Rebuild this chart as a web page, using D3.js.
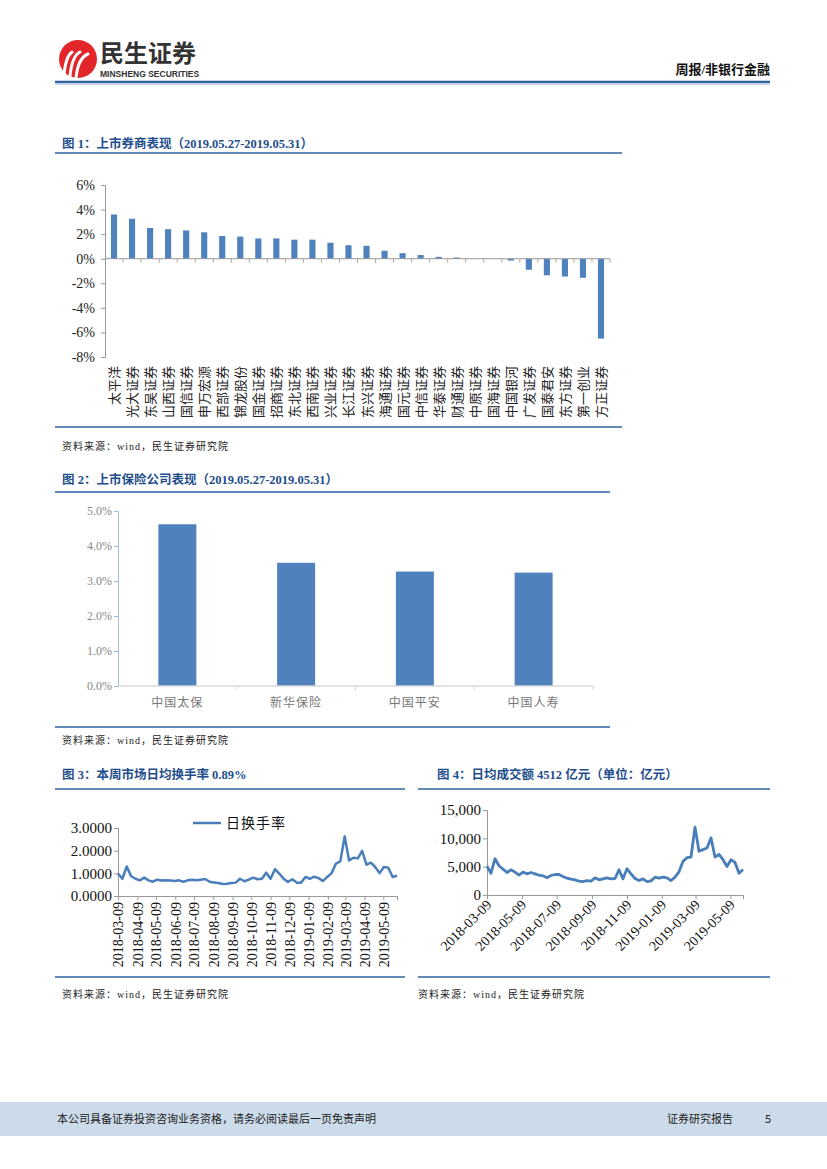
<!DOCTYPE html>
<html>
<head>
<meta charset="utf-8">
<script src="https://cdn.jsdelivr.net/npm/d3@7"></script>
<style>
  body { margin: 0; background: #fff; }
  svg { display: block; }
</style>
</head>
<body>
<svg id="page" width="827" height="1169"></svg>
<script>
// fig 1 - brokers weekly change (%)
const brokers = ["太平洋", "光大证券", "东吴证券", "山西证券", "国信证券", "申万宏源", "西部证券", "锦龙股份", "国金证券", "招商证券",
  "东北证券", "西南证券", "兴业证券", "长江证券", "东兴证券", "海通证券", "国元证券", "中信证券", "华泰证券", "财通证券",
  "中原证券", "国海证券", "中国银河", "广发证券", "国泰君安", "东方证券", "第一创业", "方正证券"];
const brokerChange = [3.6, 3.25, 2.5, 2.4, 2.3, 2.15, 1.85, 1.8, 1.65, 1.65,
  1.55, 1.55, 1.3, 1.1, 1.05, 0.65, 0.45, 0.3, 0.15, 0.1,
  0.0, 0.0, -0.15, -0.9, -1.35, -1.45, -1.55, -6.5];
const brokerTicks = [6, 4, 2, 0, -2, -4, -6, -8];

// fig 2 - insurers
const insurers = ["中国太保", "新华保险", "中国平安", "中国人寿"];
const insurerChange = [4.62, 3.52, 3.27, 3.24];
const insurerTicks = [0, 1, 2, 3, 4, 5];

// fig 3/4 - weekly market data
const weeks = ["2018-03-09", "2018-03-16", "2018-03-23", "2018-03-30", "2018-04-06", "2018-04-13", "2018-04-20", "2018-04-27",
  "2018-05-04", "2018-05-11", "2018-05-18", "2018-05-25", "2018-06-01", "2018-06-08", "2018-06-15", "2018-06-22", "2018-06-29",
  "2018-07-06", "2018-07-13", "2018-07-20", "2018-07-27", "2018-08-03", "2018-08-10", "2018-08-17", "2018-08-24", "2018-08-31",
  "2018-09-07", "2018-09-14", "2018-09-21", "2018-09-28", "2018-10-05", "2018-10-12", "2018-10-19", "2018-10-26",
  "2018-11-02", "2018-11-09", "2018-11-16", "2018-11-23", "2018-11-30", "2018-12-07", "2018-12-14", "2018-12-21", "2018-12-28",
  "2019-01-04", "2019-01-11", "2019-01-18", "2019-01-25", "2019-02-01", "2019-02-08", "2019-02-15", "2019-02-22",
  "2019-03-01", "2019-03-08", "2019-03-15", "2019-03-22", "2019-03-29", "2019-04-05", "2019-04-12", "2019-04-19", "2019-04-26",
  "2019-05-03", "2019-05-10", "2019-05-17", "2019-05-24", "2019-05-31"];
const turnover = [0.99, 0.76, 1.30, 0.87, 0.76, 0.69, 0.81, 0.69, 0.63, 0.72, 0.68, 0.69, 0.68, 0.66, 0.69, 0.63, 0.69,
  0.72, 0.69, 0.72, 0.75, 0.63, 0.60, 0.57, 0.53, 0.54, 0.57, 0.59, 0.76, 0.65, 0.72, 0.81, 0.74, 0.76,
  1.03, 0.76, 1.18, 0.99, 0.76, 0.62, 0.74, 0.59, 0.59, 0.84, 0.76, 0.85, 0.79, 0.66, 0.84, 1.01, 1.43,
  1.53, 2.63, 1.57, 1.69, 1.66, 1.99, 1.38, 1.47, 1.28, 1.01, 1.28, 1.25, 0.84, 0.89];
const amount = [5060, 3850, 6400, 5160, 4570, 3970, 4450, 4030, 3500, 4030, 3740, 3970, 3740, 3500, 3380, 3030, 3440,
  3620, 3620, 3260, 2970, 2790, 2670, 2430, 2370, 2550, 2430, 3030, 2670, 2850, 3030, 2850, 2910, 4450,
  2850, 4630, 3740, 2910, 2550, 2850, 2370, 2490, 3150, 2970, 3150, 3030, 2550, 3150, 4090, 5930, 6580,
  6700, 11980, 7710, 8000, 8300, 10080, 6700, 7180, 6230, 5040, 6230, 5750, 3850, 4512];
const turnoverTicks = [0, 1, 2, 3];
const amountTicks = [0, 5000, 10000, 15000];
const monthTicks = ["2018-03-09", "2018-04-09", "2018-05-09", "2018-06-09", "2018-07-09", "2018-08-09", "2018-09-09",
  "2018-10-09", "2018-11-09", "2018-12-09", "2019-01-09", "2019-02-09", "2019-03-09", "2019-04-09", "2019-05-09"];
const biMonthTicks = ["2018-03-09", "2018-05-09", "2018-07-09", "2018-09-09", "2018-11-09", "2019-01-09", "2019-03-09", "2019-05-09"];

const blue = "#4F81BD";
const titleBlue = "#1F4E8C";
const ruleBlue = "#2F62A0";
const serif = "'Liberation Serif', 'Noto Sans CJK SC', serif";
const sans = "'Noto Sans CJK SC', sans-serif";
const parse = d3.timeParse("%Y-%m-%d");

const svg = d3.select("#page");

function rule(x1, x2, y, w, c)
{
  svg.append("line").attr("x1", x1).attr("x2", x2).attr("y1", y).attr("y2", y)
    .attr("stroke", c || ruleBlue).attr("stroke-width", w || 1.5);
}

function title(x, y, txt)
{
  svg.append("text").attr("x", x).attr("y", y).text(txt)
    .attr("font-family", serif).attr("font-weight", "bold").attr("font-size", 12.5).attr("fill", titleBlue);
}

function source(x, y)
{
  svg.append("text").attr("x", x).attr("y", y).text("资料来源：wind，民生证券研究院")
    .attr("font-family", serif).attr("font-size", 10).attr("letter-spacing", 1).attr("fill", "#222");
}

function drawHeader()
{
  const logo = svg.append("g");
  logo.append("circle").attr("cx", 78).attr("cy", 59).attr("r", 19).attr("fill", "#E3262A");
  const stripes = [[64, 74, 72, 52], [70, 76, 80, 52], [76, 78, 88, 54]];
  stripes.forEach(s =>
  {
    logo.append("path")
      .attr("d", `M${s[0]},${s[1]} Q${s[0] + 2},${s[3] + 4} ${s[2]},${s[3]}`)
      .attr("stroke", "#fff").attr("stroke-width", 3).attr("fill", "none").attr("stroke-linecap", "round");
  });
  svg.append("text").attr("x", 100).attr("y", 62).text("民生证券")
    .attr("font-family", sans).attr("font-weight", "bold").attr("font-size", 24).attr("fill", "#333");
  svg.append("text").attr("x", 100).attr("y", 76.5).text("MINSHENG SECURITIES")
    .attr("font-family", "'Liberation Sans Narrow', 'Liberation Sans', sans-serif").attr("font-weight", "bold")
    .attr("font-size", 8.5).attr("fill", "#333");
  svg.append("text").attr("x", 770).attr("y", 74).attr("text-anchor", "end").text("周报/非银行金融")
    .attr("font-family", serif).attr("font-weight", "bold").attr("font-size", 13).attr("fill", "#111");
  rule(55, 770, 82, 2.5, "#2F62A0");
  rule(55, 770, 84.5, 1, "#BFD2E8");
}

function drawBrokers()
{
  title(62, 148, "图 1：上市券商表现（2019.05.27-2019.05.31）");
  rule(55, 622, 153);

  const y = d3.scaleLinear().domain([-8, 6]).range([357, 185]);
  const x = d3.scaleBand().domain(brokers).range([105, 610]).paddingInner(0.66).paddingOuter(0.33);
  const g = svg.append("g");

  const yAxis = g.append("g").attr("transform", "translate(105,0)")
    .call(d3.axisLeft(y).tickValues(brokerTicks).tickSize(4).tickFormat(d => d + "%"));
  yAxis.select(".domain").attr("stroke", "#999");
  yAxis.selectAll(".tick line").attr("stroke", "#999");
  yAxis.selectAll("text").attr("font-family", serif).attr("font-size", 14).attr("fill", "#222").attr("x", -10);

  g.selectAll(".bar").data(brokers).enter().append("rect")
    .attr("x", d => x(d))
    .attr("width", x.bandwidth())
    .attr("y", (d, i) => y(Math.max(0, brokerChange[i])))
    .attr("height", (d, i) => Math.abs(y(brokerChange[i]) - y(0)))
    .attr("fill", blue);

  // x axis with ticks between categories
  g.append("line").attr("x1", 105).attr("x2", 610).attr("y1", y(0)).attr("y2", y(0)).attr("stroke", "#999");
  const step = x.step();
  brokers.forEach((d, i) =>
  {
    const tx = 105 + step * (i + 1);
    g.append("line").attr("x1", tx).attr("x2", tx).attr("y1", y(0)).attr("y2", y(0) + 4).attr("stroke", "#B0A890");
  });

  // labels rotated, reading upward, anchored at the top
  brokers.forEach(d =>
  {
    const cx = x(d) + x.bandwidth() / 2;
    g.append("text").attr("transform", `translate(${cx + 5},366) rotate(-90)`)
      .attr("text-anchor", "end").text(d)
      .attr("font-family", sans).attr("font-size", 13).attr("fill", "#222");
  });

  rule(55, 622, 427);
  source(62, 450);
}

function drawInsurers()
{
  title(62, 484, "图 2：上市保险公司表现（2019.05.27-2019.05.31）");
  rule(55, 610, 492);

  const y = d3.scaleLinear().domain([0, 5]).range([686, 511]);
  const x = d3.scaleBand().domain(insurers).range([118, 593]).paddingInner(0.68).paddingOuter(0.34);
  const g = svg.append("g");

  const yAxis = g.append("g").attr("transform", "translate(118,0)")
    .call(d3.axisLeft(y).tickValues(insurerTicks).tickSize(4).tickFormat(d => d3.format(".1f")(d) + "%"));
  yAxis.select(".domain").attr("stroke", "#9DBBDD");
  yAxis.selectAll(".tick line").attr("stroke", "#9DBBDD");
  yAxis.selectAll("text").attr("font-family", serif).attr("font-size", 12).attr("fill", "#888").attr("x", -6);

  g.selectAll(".bar").data(insurers).enter().append("rect")
    .attr("x", d => x(d))
    .attr("width", x.bandwidth())
    .attr("y", (d, i) => y(insurerChange[i]))
    .attr("height", (d, i) => y(0) - y(insurerChange[i]))
    .attr("fill", blue);

  g.append("line").attr("x1", 118).attr("x2", 593).attr("y1", y(0)).attr("y2", y(0)).attr("stroke", "#D9D9D9").attr("stroke-width", 1.5);
  insurers.forEach((d, i) =>
  {
    const tx = 118 + x.step() * (i + 1);
    g.append("line").attr("x1", tx).attr("x2", tx).attr("y1", y(0)).attr("y2", y(0) + 4).attr("stroke", "#D9D9D9");
    g.append("text").attr("x", x(d) + x.bandwidth() / 2).attr("y", 707).attr("text-anchor", "middle").text(d)
      .attr("font-family", sans).attr("font-size", 12).attr("letter-spacing", 1).attr("fill", "#777");
  });

  rule(55, 610, 727);
  source(62, 744);
}

function drawTurnover()
{
  title(62, 779, "图 3：本周市场日均换手率 0.89%");
  rule(55, 405, 789);

  const dates = weeks.map(parse);
  const x = d3.scaleTime().domain([dates[0], dates[dates.length - 1]]).range([118, 397]);
  const y = d3.scaleLinear().domain([0, 3]).range([896, 828]);
  const g = svg.append("g");

  const yAxis = g.append("g").attr("transform", "translate(118,0)")
    .call(d3.axisLeft(y).tickValues(turnoverTicks).tickSize(4).tickFormat(d3.format(".4f")));
  yAxis.select(".domain").attr("stroke", "#999");
  yAxis.selectAll(".tick line").attr("stroke", "#999");
  yAxis.selectAll("text").attr("font-family", serif).attr("font-size", 15).attr("fill", "#111").attr("x", -6);

  const xAxis = g.append("g").attr("transform", "translate(0,896)")
    .call(d3.axisBottom(x).tickValues(monthTicks.map(parse)).tickSize(4).tickFormat(d3.timeFormat("%Y-%m-%d")));
  xAxis.select(".domain").attr("stroke", "#999");
  xAxis.selectAll(".tick line").attr("stroke", "#999");
  xAxis.selectAll("text").attr("font-family", serif).attr("font-size", 14).attr("fill", "#111")
    .attr("text-anchor", "end").attr("transform", "rotate(-90)").attr("x", -6).attr("y", 0).attr("dy", "0.35em");

  const line = d3.line().x((d, i) => x(dates[i])).y(d => y(d));
  g.append("path").datum(turnover).attr("d", line)
    .attr("fill", "none").attr("stroke", "#4A7EBB").attr("stroke-width", 2.5).attr("stroke-linejoin", "round");

  g.append("line").attr("x1", 193).attr("x2", 221).attr("y1", 823).attr("y2", 823)
    .attr("stroke", "#4A7EBB").attr("stroke-width", 2.5);
  g.append("text").attr("x", 226).attr("y", 828).text("日换手率")
    .attr("font-family", sans).attr("font-size", 14).attr("letter-spacing", 1).attr("fill", "#111");

  rule(55, 405, 977);
  source(62, 998);
}

function drawAmount()
{
  title(437, 779, "图 4：日均成交额 4512 亿元（单位：亿元）");
  rule(418, 770, 789);

  const dates = weeks.map(parse);
  const x = d3.scaleTime().domain([dates[0], dates[dates.length - 1]]).range([487, 743]);
  const y = d3.scaleLinear().domain([0, 15000]).range([895, 810]);
  const g = svg.append("g");

  const yAxis = g.append("g").attr("transform", "translate(487,0)")
    .call(d3.axisLeft(y).tickValues(amountTicks).tickSize(4).tickFormat(d3.format(",")));
  yAxis.select(".domain").attr("stroke", "#999");
  yAxis.selectAll(".tick line").attr("stroke", "#999");
  yAxis.selectAll("text").attr("font-family", serif).attr("font-size", 15).attr("fill", "#111").attr("x", -6);

  const xAxis = g.append("g").attr("transform", "translate(0,895)")
    .call(d3.axisBottom(x).tickValues(biMonthTicks.map(parse)).tickSize(4).tickFormat(d3.timeFormat("%Y-%m-%d")));
  xAxis.select(".domain").attr("stroke", "#999");
  xAxis.selectAll(".tick line").attr("stroke", "#999");
  xAxis.selectAll("text").attr("font-family", serif).attr("font-size", 14).attr("fill", "#111")
    .attr("text-anchor", "end").attr("transform", "rotate(-45)").attr("x", -4).attr("y", 6).attr("dy", "0.35em");

  const line = d3.line().x((d, i) => x(dates[i])).y(d => y(d));
  g.append("path").datum(amount).attr("d", line)
    .attr("fill", "none").attr("stroke", "#4A7EBB").attr("stroke-width", 2.8).attr("stroke-linejoin", "round");

  rule(418, 770, 977);
  source(418, 998);
}

function drawFooter()
{
  svg.append("rect").attr("x", 0).attr("y", 1102).attr("width", 827).attr("height", 34).attr("fill", "#CCDBEA");
  svg.append("text").attr("x", 57).attr("y", 1123).text("本公司具备证券投资咨询业务资格，请务必阅读最后一页免责声明")
    .attr("font-family", sans).attr("font-size", 11).attr("fill", "#222");
  svg.append("text").attr("x", 667).attr("y", 1123).text("证券研究报告")
    .attr("font-family", sans).attr("font-size", 11).attr("fill", "#222");
  svg.append("text").attr("x", 765).attr("y", 1123).text("5")
    .attr("font-family", sans).attr("font-size", 11).attr("fill", "#222");
}

drawHeader();
drawBrokers();
drawInsurers();
drawTurnover();
drawAmount();
drawFooter();
</script>
</body>
</html>
